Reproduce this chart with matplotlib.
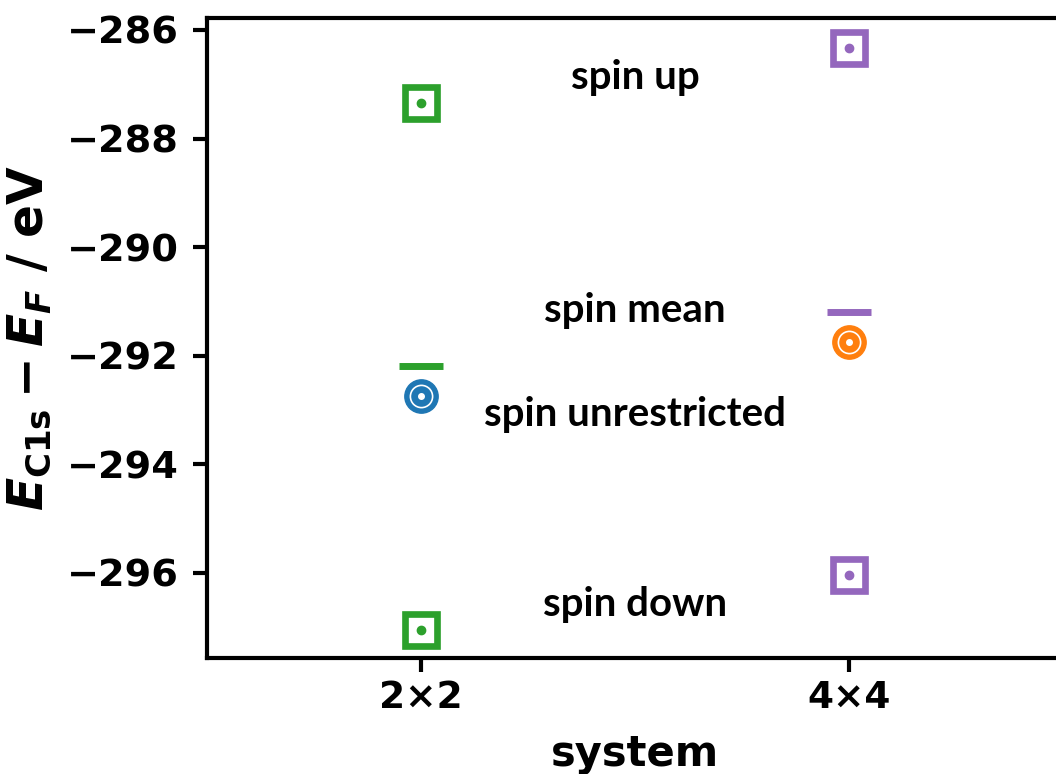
import matplotlib
matplotlib.use("Agg")
import matplotlib.pyplot as plt

systems = ["2×2", "4×4"]
spin_up = [-287.35, -286.33]
spin_down = [-297.05, -296.04]
spin_mean = [-292.2, -291.19]
spin_unrestricted = [-292.75, -291.75]
square_colors = ["#2ca02c", "#9467bd"]
circle_colors = ["#1f77b4", "#ff7f0e"]
labels = ["spin up", "spin mean", "spin unrestricted", "spin down"]
label_y = [-286.88, -291.16, -293.09, -296.59]

plt.rcParams['mathtext.fontset'] = 'custom'
plt.rcParams['mathtext.it'] = 'DejaVu Sans:bold:italic'
plt.rcParams['mathtext.rm'] = 'DejaVu Sans:bold'
plt.rcParams['mathtext.bf'] = 'DejaVu Sans:bold'

fig = plt.figure(figsize=(10.56, 7.74), dpi=100)
ax = fig.add_axes([207/1056, 116/774, 856/1056, 640/774])

xs = list(range(len(systems)))
for i, x in enumerate(xs):
    sc = square_colors[i]
    cc = circle_colors[i]
    for val in (spin_up[i], spin_down[i]):
        ax.plot(x, val, marker='s', ms=23, mfc='white', mec=sc, mew=4.8, ls='none', zorder=3)
        ax.plot(x, val, marker='o', ms=6, mfc=sc, mec=sc, ls='none', zorder=4)
    ax.plot(x, spin_mean[i], marker='_', ms=31, mew=5, color=sc, ls='none', zorder=3)
    ax.plot(x, spin_unrestricted[i], marker='o', ms=24, mfc=cc, mec=cc, ls='none', zorder=3)
    ax.plot(x, spin_unrestricted[i], marker='o', ms=16, mfc='none', mec='white', mew=1.2, ls='none', zorder=4)
    ax.plot(x, spin_unrestricted[i], marker='o', ms=4, mfc='white', mec='white', ls='none', zorder=5)

for t, y in zip(labels, label_y):
    ax.text(0.5, y, t, ha='center', va='center', fontsize=29, fontweight='bold', family='Lato')

ax.set_xlim(-0.5, 1.5)
ax.set_ylim(-297.57, -285.78)
ax.set_xticks(xs)
ax.set_xticklabels(systems)
ax.set_yticks([-296, -294, -292, -290, -288, -286])
ax.set_yticklabels(["\u2212296", "\u2212294", "\u2212292", "\u2212290", "\u2212288", "\u2212286"])
for lab in ax.get_yticklabels():
    lab.set_fontweight('bold')
    lab.set_fontsize(27.5)
for lab in ax.get_xticklabels():
    lab.set_fontweight('bold')
    lab.set_fontsize(27)
ax.tick_params(width=3, length=10)
ax.tick_params(axis='y', pad=10)
ax.tick_params(axis='x', pad=6)
for s in ax.spines.values():
    s.set_linewidth(3)

ax.set_xlabel("system", fontsize=30, fontweight='bold', labelpad=12)
ax.set_ylabel(r"$E_{\mathrm{C1s}} - E_F$ / eV", fontsize=35, fontweight='bold')
ax.yaxis.set_label_coords(-0.18, 0.5)

fig.savefig("out.png", dpi=100)
